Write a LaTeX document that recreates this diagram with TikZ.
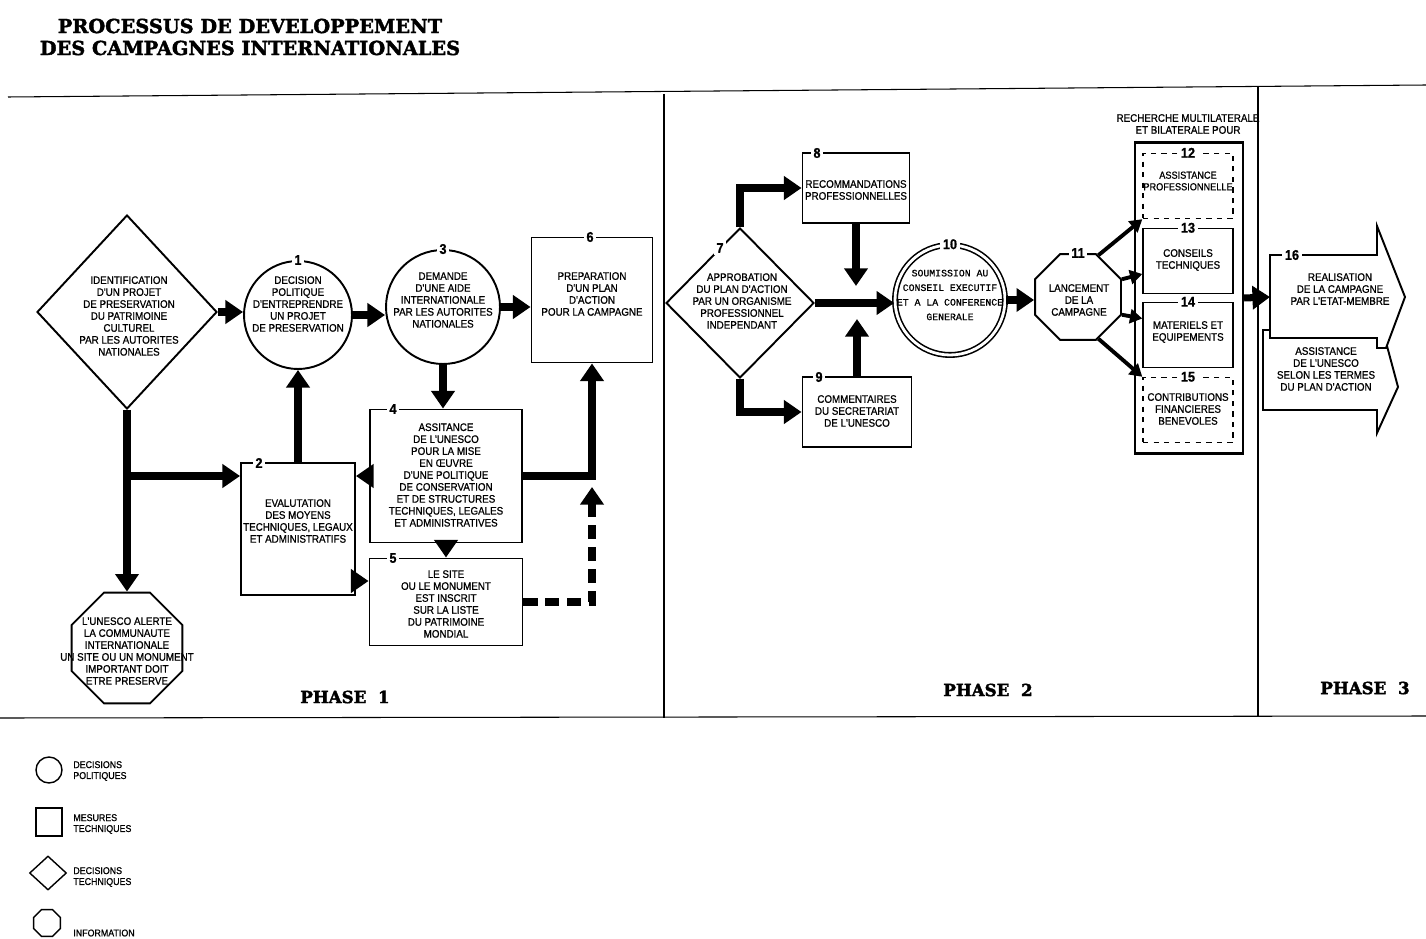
\documentclass[tikz,border=0pt]{standalone}
\usepackage{fontspec}
\setmainfont{Liberation Sans}
\setmonofont{Liberation Mono}[FakeBold=0.8]
\newfontfamily\condfont{Liberation Sans}[FakeStretch=0.9,FakeBold=0.9]
\newfontfamily\slabfont{DejaVu Serif}[FakeBold=2]
\usetikzlibrary{arrows.meta,shapes.geometric}
\newcommand{\boxfont}{\condfont\fontsize{6.2}{6.8}\selectfont}
\newcommand{\smallboxfont}{\condfont\fontsize{5.8}{6.6}\selectfont}
\newcommand{\numfont}{\condfont\fontsize{8}{8}\selectfont\bfseries}
\newcommand{\typfont}{\ttfamily\fontsize{5.6}{8.3}\selectfont}
\newcommand{\legfont}{\condfont\fontsize{5.6}{6.2}\selectfont}
\newcommand{\phasefont}{\slabfont\bfseries\fontsize{9.5}{10}\selectfont}
\newcommand{\headfont}{\slabfont\bfseries\fontsize{11}{12.5}\selectfont}

\begin{document}
\begin{tikzpicture}[x=0.02cm,y=-0.02cm,
  flow/.style={line width=4pt,-{Triangle[width=13pt,length=10pt]}},
  thin flow/.style={line width=2.2pt,-{Triangle[width=8pt,length=7pt]}},
  techbox/.style={draw,line width=1.1pt,inner sep=0pt},
  subbox/.style={draw,line width=0.8pt,inner sep=0pt,minimum width=1.8cm,minimum height=1.3cm},
  poldec/.style={draw,circle,line width=1.1pt,inner sep=0pt},
  techdec/.style={draw,diamond,line width=1.1pt,inner sep=0pt},
  info/.style={draw,regular polygon,regular polygon sides=8,line width=1.1pt,inner sep=0pt},
  txt/.style={align=center,font=\boxfont,inner sep=0pt},
  legtxt/.style={align=left,font=\legfont,inner sep=0pt,anchor=west},
  num/.style={fill=white,font=\numfont,inner sep=1.5pt},
  frame/.style={line width=0.6pt},
  phase/.style={font=\phasefont},
  headline/.style={align=center,font=\headfont}]
\useasboundingbox (0,0) rectangle (1426,939);
% title
\node[headline] (titre) at (250,37) {PROCESSUS DE DEVELOPPEMENT\\DES CAMPAGNES INTERNATIONALES};
% frame
\draw[frame] (8,97) -- (1426,85);
\draw[frame] (0,718) -- (1426,716);
\draw[frame] (664,94) -- (664,718);
\draw[frame] (1258,87) -- (1258,717);
\node[phase] (ph1) at (345,697) {PHASE\ \ 1};
\node[phase] (ph2) at (988,690) {PHASE\ \ 2};
\node[phase] (ph3) at (1365,688) {PHASE\ \ 3};

% phase 1
\node[techdec,minimum width=3.6cm,minimum height=3.88cm] (ident) at (127,312) {};
\node[poldec,minimum size=2.16cm] (c1) at (298,315) {};
\node[poldec,minimum size=2.28cm] (c3) at (443,307) {};
\node[techbox,minimum width=2.42cm,minimum height=2.5cm] (b6) at (592,300) {};
\node[techbox,minimum width=3.04cm,minimum height=2.66cm] (b4) at (446,476) {};
\node[techbox,minimum width=2.28cm,minimum height=2.64cm] (b2) at (298,529) {};
\node[techbox,minimum width=3.06cm,minimum height=1.74cm] (b5) at (446,602) {};
\node[info,minimum size=2.4cm] (alerte) at (127,648) {};

\node[txt] (tident) at (129,316) {IDENTIFICATION\\D'UN PROJET\\DE PRESERVATION\\DU PATRIMOINE\\CULTUREL\\PAR LES AUTORITES\\NATIONALES};
\node[txt] (t1) at (298,304) {DECISION\\POLITIQUE\\D'ENTREPRENDRE\\UN PROJET\\DE PRESERVATION};
\node[txt] (t3) at (443,300) {DEMANDE\\D'UNE AIDE\\INTERNATIONALE\\PAR LES AUTORITES\\NATIONALES};
\node[txt] (t6) at (592,294) {PREPARATION\\D'UN PLAN\\D'ACTION\\POUR LA CAMPAGNE};
\node[txt] (t4) at (446,475) {ASSITANCE\\DE L'UNESCO\\POUR LA MISE\\EN \OE UVRE\\D'UNE POLITIQUE\\DE CONSERVATION\\ET DE STRUCTURES\\TECHNIQUES, LEGALES\\ET ADMINISTRATIVES};
\node[txt] (t2) at (298,521) {EVALUTATION\\DES MOYENS\\TECHNIQUES, LEGAUX\\ET ADMINISTRATIFS};
\node[txt] (t5) at (446,604) {LE SITE\\OU LE MONUMENT\\EST INSCRIT\\SUR LA LISTE\\DU PATRIMOINE\\MONDIAL};
\node[txt] (talerte) at (127,651) {L'UNESCO ALERTE\\LA COMMUNAUTE\\INTERNATIONALE\\UN SITE OU UN MONUMENT\\IMPORTANT DOIT\\ETRE PRESERVE};

\node[num] (n1) at (c1.north) {1};
\node[num] (n3) at (c3.north) {3};
\node[num] (n6) at (590,237) {6};
\node[num] (n4) at (393,409) {4};
\node[num] (n2) at (259,463) {2};
\node[num] (n5) at (393,558) {5};

\draw[flow] (ident.east) -- (ident.east -| c1.west);
\draw[flow] (c1.east) -- (c1.east -| c3.west);
\draw[flow] (c3.east) -- (c3.east -| b6.west);
\draw[flow] (c3.south) -- (c3.south |- b4.north);
\draw[flow] (b4.west) -- (b4.west -| b2.east);
\draw[flow] (b4.south) -- (b5.north);
\coordinate (in5) at (b5.west |- 0,581);
\draw[flow] (in5 -| b2.east) -- (in5);
\draw[flow] (b2.north) -- (c1.south);
\draw[flow] (b4.east) -| (b6.south);
\coordinate (dash6) at (b6.south |- 0,487);
\draw[flow,dash pattern=on 8pt off 4.5pt] (b5.east) -| (dash6);
\draw[flow] (ident.south) -- (alerte.north);
\coordinate (fork) at (ident.south |- b4.west);
\draw[flow] (fork) -- (fork -| b2.west);

% phase 2
\node[techdec,minimum width=2.96cm,minimum height=3cm] (d7) at (740,303) {};
\node[techbox,minimum width=2.14cm,minimum height=1.4cm] (b8) at (856,188) {};
\node[techbox,minimum width=2.18cm,minimum height=1.4cm] (b9) at (857,412) {};
\node[poldec,double,double distance=1.6pt,line width=0.9pt,minimum size=2.2cm] (c10) at (950,300) {};
\node[info,minimum size=1.86cm] (o11) at (1078,297) {};
\node[techbox,line width=1.3pt,minimum width=2.16cm,minimum height=6.22cm] (grp) at (1189,298) {};
\node[subbox,dashed] (b12) at (1188,186) {};
\node[subbox] (b13) at (1188,261) {};
\node[subbox] (b14) at (1188,335) {};
\node[subbox,dashed] (b15) at (1188,410) {};

\node[txt] (t7) at (742,301) {APPROBATION\\DU PLAN D'ACTION\\PAR UN ORGANISME\\PROFESSIONNEL\\INDEPENDANT};
\node[txt] (t8) at (856,190) {RECOMMANDATIONS\\PROFESSIONNELLES};
\node[txt] (t9) at (857,411) {COMMENTAIRES\\DU SECRETARIAT\\DE L'UNESCO};
\node[txt,font=\typfont] (t10) at (950,295) {SOUMISSION AU\\CONSEIL EXECUTIF\\ET A LA CONFERENCE\\GENERALE};
\node[txt] (t11) at (1079,300) {LANCEMENT\\DE LA\\CAMPAGNE};
\node[txt] (trech) at (1188,124) {RECHERCHE MULTILATERALE\\ET BILATERALE POUR};
\node[txt,font=\smallboxfont] (t12) at (1188,181) {ASSISTANCE\\PROFESSIONNELLE};
\node[txt] (t13) at (1188,260) {CONSEILS\\TECHNIQUES};
\node[txt] (t14) at (1188,332) {MATERIELS ET\\EQUIPEMENTS};
\node[txt] (t15) at (1188,409) {CONTRIBUTIONS\\FINANCIERES\\BENEVOLES};

\node[num] (n7) at (720,248) {7};
\node[num] (n8) at (817,153) {8};
\node[num] (n9) at (819,377) {9};
\node[num] (n10) at (c10.north) {10};
\node[num] (n11) at (o11.north) {11};
\node[num] (n12) at (b12.north) {12};
\node[num] (n13) at (b13.north) {13};
\node[num] (n14) at (b14.north) {14};
\node[num] (n15) at (b15.north) {15};

\draw[flow] (d7.north) |- (b8.west);
\draw[flow] (d7.south) |- (b9.west);
\draw[flow] (d7.east) -- (d7.east -| c10.west);
\draw[flow] (b8.south) -- ++(0,62);
\draw[flow] (b9.north) -- ++(0,-57);
\draw[flow] (c10.east) -- (c10.east -| o11.west);
\draw[thin flow] (o11.64) -- (b12.south west);
\draw[thin flow] (o11.22) -- ([yshift=-0.26cm]b13.west);
\draw[thin flow] (o11.-22) -- ([yshift=0.33cm]b14.west);
\draw[thin flow] (o11.-64) -- (b15.north west);

% phase 3
\coordinate (in16) at (1270,297);
\draw[line width=1.1pt,fill=white] (1263,330) -- (1380,330) -- (1380,320) -- (1398,387) -- (1377,433) -- (1377,410) -- (1263,410) -- cycle;
\draw[line width=1.1pt,fill=white] (1270,255) -- (1377,255) -- (1377,226) -- (1405,297) -- (1386,348) -- (1377,348) -- (1377,338) -- (1270,338) -- cycle;
\draw[flow] (grp.east) -- (in16);
\node[num] (n16) at (1292,255) {16};
\node[txt] (t16) at (1340,289) {REALISATION\\DE LA CAMPAGNE\\PAR L'ETAT-MEMBRE};
\node[txt] (t16b) at (1326,369) {ASSISTANCE\\DE L'UNESCO\\SELON LES TERMES\\DU PLAN D'ACTION};

% legend
\node[poldec,line width=0.8pt,minimum size=0.52cm] (lg1) at (49,770) {};
\node[techbox,line width=0.8pt,minimum width=0.52cm,minimum height=0.56cm] (lg2) at (49,822) {};
\node[techdec,line width=0.8pt,minimum width=0.74cm,minimum height=0.68cm] (lg3) at (48,873) {};
\node[info,line width=0.8pt,minimum size=0.58cm] (lg4) at (47,923) {};
\node[legtxt] (lt1) at (73,771) {DECISIONS\\POLITIQUES};
\node[legtxt] (lt2) at (73,824) {MESURES\\TECHNIQUES};
\node[legtxt] (lt3) at (73,877) {DECISIONS\\TECHNIQUES};
\node[legtxt] (lt4) at (73,933) {INFORMATION};
\end{tikzpicture}
\end{document}
